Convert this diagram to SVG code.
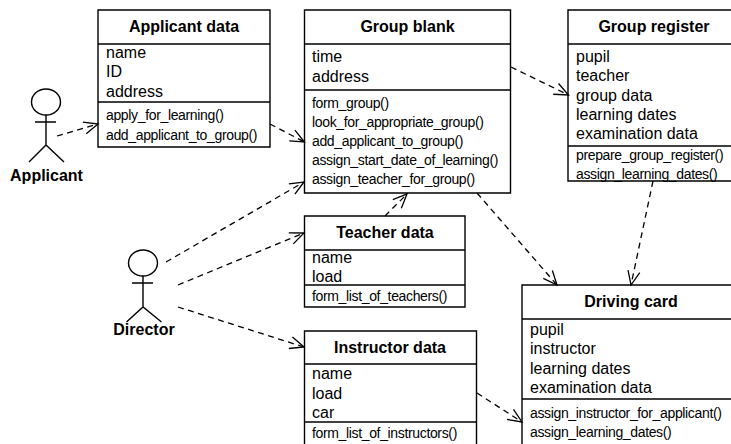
<svg xmlns="http://www.w3.org/2000/svg" width="731" height="444" viewBox="0 0 731 444">
<style>
text{font-family:"Liberation Sans",Arial,sans-serif;fill:#000}
.t{font-size:16px;font-weight:bold;text-anchor:middle}
.a{font-size:16px}
.m{font-size:14px;letter-spacing:-0.35px}
.b,.l{fill:none;stroke:#000;stroke-width:1.4}
.c{fill:none;stroke:#000;stroke-width:1.3;stroke-dasharray:6 4.500}
</style>
<defs><marker id="o" markerUnits="userSpaceOnUse" markerWidth="18" markerHeight="18" refX="15" refY="8" orient="auto"><path d="M1 2L15 8L1 14" fill="none" stroke="#000" stroke-width="1.3"/></marker></defs>
<rect width="731" height="444" fill="#fff"/>
<g id="connectors">
<path class="c" d="M57 136L98 124" marker-end="url(#o)"/>
<path class="c" d="M270 124L304.500 142" marker-end="url(#o)"/>
<path class="c" d="M166 262L304 182" marker-end="url(#o)"/>
<path class="c" d="M178 285L304 233" marker-end="url(#o)"/>
<path class="c" d="M178 307L304 347" marker-end="url(#o)"/>
<path class="c" d="M385 216L407 194" marker-end="url(#o)"/>
<path class="c" d="M511 67L568.500 95" marker-end="url(#o)"/>
<path class="c" d="M477 193L557 285" marker-end="url(#o)"/>
<path class="c" d="M653 181L631 285" marker-end="url(#o)"/>
<path class="c" d="M477 393L522 422" marker-end="url(#o)"/>
</g>
<g id="actor-applicant">
<ellipse class="l" cx="46" cy="102" rx="14.500" ry="13"/>
<path class="l" d="M46 115V145M35 122H56M29 162L46 145L64 162"/>
<text class="t" x="46.500" y="181">Applicant</text>
</g>
<g id="actor-director">
<ellipse class="l" cx="143" cy="263" rx="14.500" ry="13"/>
<path class="l" d="M143 276V307M132 283H153M126.500 322L143 307L161.500 322"/>
<text class="t" x="144" y="335">Director</text>
</g>
<g id="applicant-data">
<path class="b" d="M98 147V10H270V147ZM98 44H270M98 102H270"/>
<text class="t" x="184" y="32">Applicant data</text>
<text class="a" x="106" y="58">name</text>
<text class="a" x="106" y="77">ID</text>
<text class="a" x="106" y="97">address</text>
<text class="m" x="106" y="120">apply_for_learning()</text>
<text class="m" x="106" y="140">add_applicant_to_group()</text>
</g>
<g id="group-blank">
<path class="b" d="M304.500 193V10H510.500V193ZM304.500 44H510.500M304.500 90H510.500"/>
<text class="t" x="407.500" y="32">Group blank</text>
<text class="a" x="312" y="62">time</text>
<text class="a" x="312" y="82">address</text>
<text class="m" x="312" y="108">form_group()</text>
<text class="m" x="312" y="127">look_for_appropriate_group()</text>
<text class="m" x="312" y="146">add_applicant_to_group()</text>
<text class="m" x="312" y="165">assign_start_date_of_learning()</text>
<text class="m" x="312" y="184">assign_teacher_for_group()</text>
</g>
<g id="group-register">
<path class="b" d="M731 181H568V10H731M568 44H731M568 146H731"/>
<text class="t" x="654" y="32">Group register</text>
<text class="a" x="576" y="62">pupil</text>
<text class="a" x="576" y="81">teacher</text>
<text class="a" x="576" y="101">group data</text>
<text class="a" x="576" y="120">learning dates</text>
<text class="a" x="576" y="139">examination data</text>
<text class="m" x="576" y="160">prepare_group_register()</text>
<text class="m" x="576" y="179">assign_learning_dates()</text>
</g>
<g id="teacher-data">
<path class="b" d="M304.500 307V216H465V307ZM304.500 250H465M304.500 285H465"/>
<text class="t" x="385" y="238">Teacher data</text>
<text class="a" x="312" y="263">name</text>
<text class="a" x="312" y="282">load</text>
<text class="m" x="312" y="301">form_list_of_teachers()</text>
</g>
<g id="instructor-data">
<path class="b" d="M304.500 444V331H476.500V444M304.500 364H476.500M304.500 422H476.500"/>
<text class="t" x="390" y="353">Instructor data</text>
<text class="a" x="312" y="379">name</text>
<text class="a" x="312" y="399">load</text>
<text class="a" x="312" y="418">car</text>
<text class="m" x="312" y="438">form_list_of_instructors()</text>
</g>
<g id="driving-card">
<path class="b" d="M522 444V285H731M522 319H731M522 399H731"/>
<text class="t" x="631" y="307">Driving card</text>
<text class="a" x="530" y="335">pupil</text>
<text class="a" x="530" y="354">instructor</text>
<text class="a" x="530" y="374">learning dates</text>
<text class="a" x="530" y="393">examination data</text>
<text class="m" x="530" y="418">assign_instructor_for_applicant()</text>
<text class="m" x="530" y="437">assign_learning_dates()</text>
</g>
</svg>
